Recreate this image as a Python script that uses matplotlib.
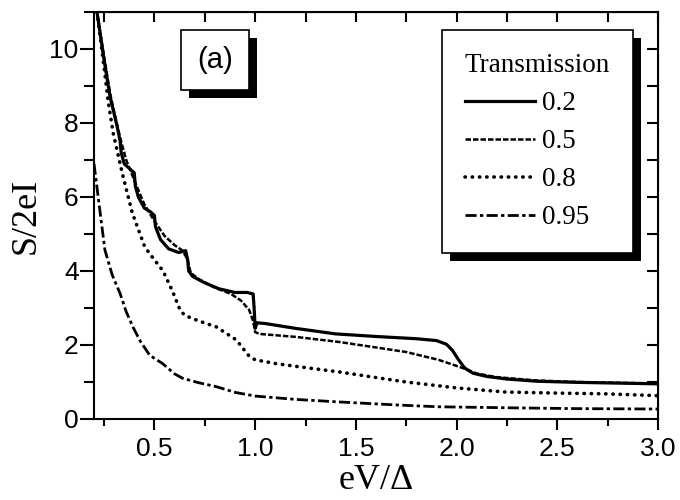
import numpy as np
import matplotlib
matplotlib.use("Agg")
import matplotlib.pyplot as plt
import matplotlib.patheffects as pe
from matplotlib.ticker import MultipleLocator

# --- данные (S/2eI от eV/Delta) ---
x_02 = [0.215, 0.25, 0.28, 0.30, 0.315, 0.33, 0.335, 0.35, 0.38, 0.40, 0.405, 0.42,
        0.45, 0.48, 0.50, 0.505, 0.53, 0.57, 0.62, 0.655, 0.665, 0.67, 0.69, 0.75,
        0.82, 0.90, 0.96, 0.99, 0.995, 1.0, 1.01, 1.05, 1.2, 1.4, 1.6, 1.8, 1.90,
        1.95, 1.98, 2.01, 2.04, 2.08, 2.15, 2.25, 2.4, 2.6, 2.8, 3.0]
y_02 = [11.0, 9.7, 8.7, 8.25, 7.9, 7.5, 7.2, 6.9, 6.75, 6.65, 6.3, 6.0,
        5.7, 5.6, 5.5, 5.2, 4.85, 4.6, 4.5, 4.55, 4.3, 4.0, 3.85, 3.68,
        3.52, 3.42, 3.42, 3.38, 3.0, 2.45, 2.6, 2.58, 2.45, 2.3, 2.23, 2.17, 2.12,
        2.02, 1.85, 1.6, 1.38, 1.24, 1.15, 1.08, 1.02, 0.99, 0.97, 0.95]

x_05 = [0.215, 0.25, 0.28, 0.30, 0.33, 0.36, 0.40, 0.45, 0.50, 0.55, 0.60, 0.64,
        0.665, 0.68, 0.72, 0.80, 0.88, 0.93, 0.97, 0.99, 1.0, 1.02, 1.2, 1.42,
        1.58, 1.75, 1.91, 2.03, 2.1, 2.2, 2.4, 2.6, 2.8, 3.0]
y_05 = [11.0, 9.8, 8.8, 8.3, 7.6, 7.0, 6.45, 5.8, 5.35, 4.95, 4.7, 4.55,
        4.3, 3.95, 3.78, 3.55, 3.38, 3.2, 2.95, 2.65, 2.35, 2.3, 2.22, 2.08,
        1.95, 1.81, 1.6, 1.38, 1.23, 1.13, 1.04, 1.0, 0.98, 0.96]

x_08 = [0.215, 0.25, 0.27, 0.295, 0.34, 0.39, 0.452, 0.50, 0.543, 0.59, 0.627, 0.65,
        0.72, 0.807, 0.906, 0.97, 1.0, 1.1, 1.22, 1.42, 1.6, 1.75, 2.0, 2.24, 2.5,
        2.74, 3.0]
y_08 = [11.0, 9.5, 8.6, 7.73, 6.65, 5.57, 4.65, 4.3, 4.0, 3.45, 2.95, 2.8,
        2.65, 2.49, 2.14, 1.7, 1.6, 1.5, 1.41, 1.27, 1.12, 1.0, 0.84, 0.73, 0.7,
        0.68, 0.63]

x_095 = [0.2, 0.23, 0.254, 0.29, 0.329, 0.36, 0.393, 0.43, 0.477, 0.54, 0.6, 0.64,
         0.72, 0.81, 0.9, 1.0, 1.2, 1.42, 1.7, 1.91, 2.3, 2.6, 3.0]
y_095 = [6.9, 5.6, 4.57, 3.9, 3.4, 2.9, 2.49, 2.1, 1.72, 1.5, 1.22, 1.1,
         0.98, 0.87, 0.72, 0.62, 0.53, 0.46, 0.38, 0.33, 0.3, 0.28, 0.27]

labels = ["0.2", "0.5", "0.8", "0.95"]

sans = "Liberation Sans"
serif = "Liberation Serif"

fig = plt.figure(figsize=(6.8, 5), dpi=100)
ax = fig.add_axes([94 / 680, 1 - 419 / 500, 564 / 680, 407 / 500])

ax.plot(x_02, y_02, color="k", lw=2.3, ls="-", label=labels[0])
ax.plot(x_05, y_05, color="k", lw=1.8, ls=(0, (2.2, 0.8)), label=labels[1])
# точки: очень короткий штрих с круглыми концами
ax.plot(x_08, y_08, color="k", lw=2.6, ls=(0, (0.1, 1.9)), dash_capstyle="round",
        label=labels[2])
ax.plot(x_095, y_095, color="k", lw=2.0, ls=(0, (4, 1.2, 1.2, 1.2)), label=labels[3])

ax.set_xlim(0.2, 3.0)
ax.set_ylim(0, 11)

# оси и тики
for s in ax.spines.values():
    s.set_linewidth(1.5)
ax.xaxis.set_major_locator(MultipleLocator(0.5))
ax.xaxis.set_minor_locator(MultipleLocator(0.25))
ax.yaxis.set_major_locator(MultipleLocator(2))
ax.yaxis.set_minor_locator(MultipleLocator(1))
ax.tick_params(which="major", direction="out", length=8, width=1.5, pad=5)
ax.tick_params(which="minor", direction="out", length=5, width=1.5)
ax.tick_params(axis="y", which="major", length=10, pad=1)
ax.tick_params(axis="y", which="minor", length=7)
ax.set_xticks(np.arange(0.5, 3.01, 0.5))
ax.set_xticklabels([f"{v:.1f}" for v in np.arange(0.5, 3.01, 0.5)])
for t in ax.get_xticklabels() + ax.get_yticklabels():
    t.set_fontfamily(sans)
    t.set_fontsize(19)

# верх и право — тики внутрь
top = ax.secondary_xaxis("top")
top.set_xticks(np.arange(0.25, 3.01, 0.25))
top.tick_params(direction="in", length=7, width=1.5, labeltop=False)
right = ax.secondary_yaxis("right")
right.set_yticks(np.arange(1, 11, 1))
right.tick_params(direction="in", length=8, width=1.5, labelright=False)

ax.set_xlabel("eV/\u0394", fontfamily=serif, fontsize=26, labelpad=2)
ax.set_ylabel("S/2eI", fontfamily=serif, fontsize=26, labelpad=5)

shadow = [pe.SimplePatchShadow(offset=(6, -6), shadow_rgbFace="k", alpha=1.0), pe.Normal()]

t = ax.text(0.2145, 0.882, "(a)", transform=ax.transAxes, ha="center", va="center",
            fontfamily=sans, fontsize=21,
            bbox=dict(boxstyle="square,pad=0.55", fc="white", ec="k", lw=1.2))
t.get_bbox_patch().set_path_effects(shadow)

leg = ax.legend(title="Transmission", loc="upper right", bbox_to_anchor=(0.9557, 0.9558),
                borderaxespad=0, prop={"family": serif, "size": 19.5},
                title_fontproperties={"family": serif, "size": 19.5},
                alignment="left", fancybox=False, framealpha=1, edgecolor="k",
                handlelength=2.6, handletextpad=0.25, labelspacing=0.48, borderpad=0.85)
leg.get_frame().set_linewidth(1.2)
leg.get_frame().set_path_effects(shadow)

fig.savefig("out.png", dpi=100)
